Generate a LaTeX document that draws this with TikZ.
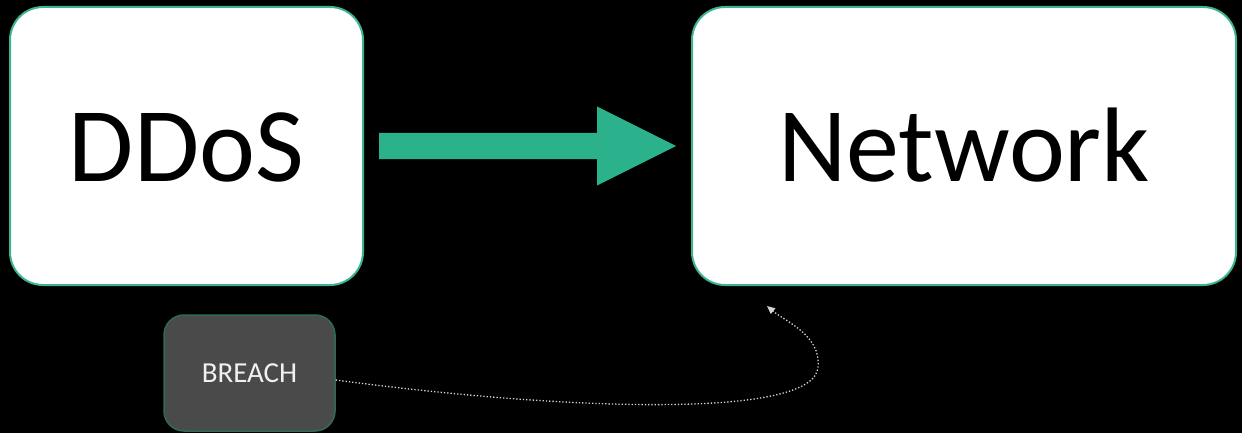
\documentclass[tikz,border=0pt]{standalone}
\usepackage{fontspec}
\setmainfont{Carlito}
\usetikzlibrary{calc,arrows.meta}
\definecolor{arrowgreen}{HTML}{2BB18B}
\definecolor{boxedge}{HTML}{3AB493}
\definecolor{breachfill}{HTML}{4A4A4A}
\definecolor{breachedge}{HTML}{2F6A56}
\definecolor{dotgray}{HTML}{D4D4D4}
\tikzset{
  bigbox/.style={draw=boxedge, line width=2pt, fill=white, rounded corners=33pt,
    inner sep=0pt, minimum height=278pt, text=black,
    font=\fontsize{106}{106}\selectfont, text height=70pt, text depth=0pt},
  breachbox/.style={draw=breachedge, line width=1.5pt, fill=breachfill, rounded corners=20pt,
    inner sep=0pt, minimum width=171pt, minimum height=116pt, text=white!94!black,
    font=\fontsize{29}{29}\selectfont, text height=19pt, text depth=0pt},
  link/.style={draw=dotgray, line width=1.3pt, dotted, -{Triangle[length=8pt,width=7pt]}}
}
\begin{document}
\begin{tikzpicture}[x=1pt,y=-1pt]
\fill[black] (0,0) rectangle (1242,433);
\useasboundingbox (0,0) rectangle (1242,433);
\node[bigbox, minimum width=353pt] (ddos) at (186.5,146) {DDoS};
\node[bigbox, minimum width=544pt] (net) at (964,146) {Network};
\node[breachbox] (breach) at (249.5,373) {BREACH};
\coordinate (as) at ($(ddos.east)+(15,0)$);
\coordinate (ae) at ($(net.west)+(-15,0)$);
\fill[arrowgreen] ($(as)+(0,-13)$) -- ($(ae)+(-79,-13)$) -- ($(ae)+(-79,-39.5)$) -- (ae)
  -- ($(ae)+(-79,39.5)$) -- ($(ae)+(-79,13)$) -- ($(as)+(0,13)$) -- cycle;
\coordinate (bstart) at ($(breach.east)+(0,7)$);
\coordinate (bend) at ($(net.south west)+(76,20)$);
\draw[link] (bstart) .. controls (560,410) and (815,420) .. (818,367)
  .. controls (821,335) and (786,322) .. (bend);
\end{tikzpicture}
\end{document}
